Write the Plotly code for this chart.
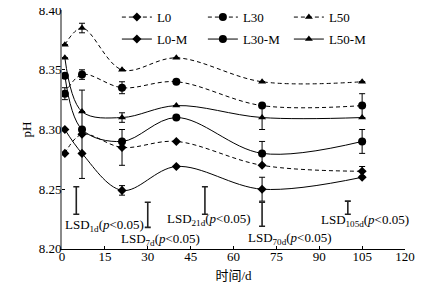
import plotly.graph_objects as go

days = [1, 7, 21, 40, 70, 105]

L0 = [8.280, 8.296, 8.285, 8.290, 8.270, 8.265]
L30 = [8.330, 8.346, 8.335, 8.340, 8.320, 8.320]
L50 = [8.371, 8.385, 8.350, 8.360, 8.340, 8.340]
L0M = [8.300, 8.280, 8.249, 8.269, 8.250, 8.260]
L30M = [8.345, 8.300, 8.290, 8.310, 8.280, 8.290]
L50M = [8.360, 8.315, 8.310, 8.320, 8.310, 8.310]

L0_err = [0, 0.037, 0.015, 0, 0, 0.004]
L30_err = [0.005, 0.004, 0.005, 0, 0, 0.010]
L50_err = [0, 0.004, 0, 0, 0, 0]
L0M_err = [0, 0, 0.004, 0, 0.010, 0]
L30M_err = [0, 0, 0, 0, 0.010, 0.010]
L50M_err = [0, 0, 0.004, 0, 0.010, 0]

lsd_x = [5, 30, 50, 70, 100]
lsd_lo = [8.229, 8.218, 8.229, 8.219, 8.229]
lsd_hi = [8.252, 8.239, 8.252, 8.239, 8.240]
lsd_names = ["1d", "7d", "21d", "70d", "105d"]
lsd_label_x = [0.4, 19.9, 36.2, 64.2, 89.9]
lsd_label_y = [8.2192, 8.2075, 8.2242, 8.2090, 8.2234]

x_ticks = [0, 15, 30, 45, 60, 75, 90, 105, 120]
y_ticks = [8.20, 8.25, 8.30, 8.35, 8.40]
y_tick_text = ["8.20", "8.25", "8.30", "8.35", "8.40"]

FONT = "Liberation Serif, Times New Roman, Noto Sans CJK SC, serif"

series = [
    ("L0", L0, L0_err, "diamond", 7, "4px,3px", "legend"),
    ("L30", L30, L30_err, "circle", 8, "4px,3px", "legend"),
    ("L50", L50, L50_err, "triangle-up", 7, "4px,3px", "legend"),
    ("L0-M", L0M, L0M_err, "diamond", 7, "solid", "legend2"),
    ("L30-M", L30M, L30M_err, "circle", 8, "solid", "legend2"),
    ("L50-M", L50M, L50M_err, "triangle-up", 7, "solid", "legend2"),
]

fig = go.Figure()
for name, vals, err, sym, size, dash, lg in series:
    fig.add_trace(go.Scatter(
        x=days, y=vals, name=name, mode="lines+markers", legend=lg,
        line=dict(color="black", width=1, dash=dash, shape="spline", smoothing=1.0),
        marker=dict(symbol=sym, size=size, color="black"),
        error_y=dict(type="data", array=err, visible=True, color="black",
                     thickness=1, width=3),
        cliponaxis=False,
    ))

lsd_c = [(a + b) / 2 for a, b in zip(lsd_lo, lsd_hi)]
lsd_e = [(b - a) / 2 for a, b in zip(lsd_lo, lsd_hi)]
fig.add_trace(go.Scatter(
    x=lsd_x, y=lsd_c, mode="markers", showlegend=False,
    marker=dict(size=1, color="rgba(0,0,0,0)"),
    error_y=dict(type="data", array=lsd_e, visible=True, color="#222",
                 thickness=1.6, width=3),
    hoverinfo="skip", cliponaxis=False,
))

for nm, lx, ly in zip(lsd_names, lsd_label_x, lsd_label_y):
    fig.add_annotation(
        x=lx, y=ly, xref="x", yref="y", xanchor="left", yanchor="middle",
        text=f"LSD<sub>{nm}</sub>(<i>p</i>&lt;0.05)", showarrow=False,
        font=dict(family=FONT, size=13, color="black"),
    )

legend_common = dict(
    orientation="h", xanchor="left", yanchor="top",
    entrywidth=41, entrywidthmode="pixels", bgcolor="rgba(0,0,0,0)",
    font=dict(family=FONT, size=13), tracegroupgap=0,
)

fig.update_layout(
    width=418, height=283,
    margin=dict(l=54, r=21, t=2, b=42, autoexpand=False),
    paper_bgcolor="white", plot_bgcolor="white",
    font=dict(family=FONT, size=13, color="black"),
    showlegend=True,
    legend=dict(x=0.16, y=1.033, **legend_common),
    legend2=dict(x=0.16, y=0.941, **legend_common),
    xaxis=dict(
        range=[0, 120], tickmode="array", tickvals=x_ticks,
        ticks="inside", ticklen=3, tickcolor="black",
        showline=True, linecolor="black", linewidth=1,
        showgrid=False, zeroline=False, automargin=False,
        ticklabelstandoff=-5, ticklabeloverflow="allow",
        title=dict(text="时间/d", font=dict(family=FONT, size=13), standoff=8),
        tickfont=dict(family=FONT, size=13),
    ),
    yaxis=dict(
        range=[8.1999, 8.4001], tickmode="array", tickvals=y_ticks,
        ticktext=y_tick_text, ticks="inside", ticklen=3, tickcolor="black",
        showline=True, linecolor="#8a8a8a", linewidth=2,
        showgrid=False, zeroline=False, automargin=False,
        ticklabelstandoff=-4, ticklabeloverflow="allow",
        title=dict(text="pH", font=dict(family=FONT, size=13), standoff=4),
        tickfont=dict(family=FONT, size=13),
    ),
)

fig.write_html("out.html")
